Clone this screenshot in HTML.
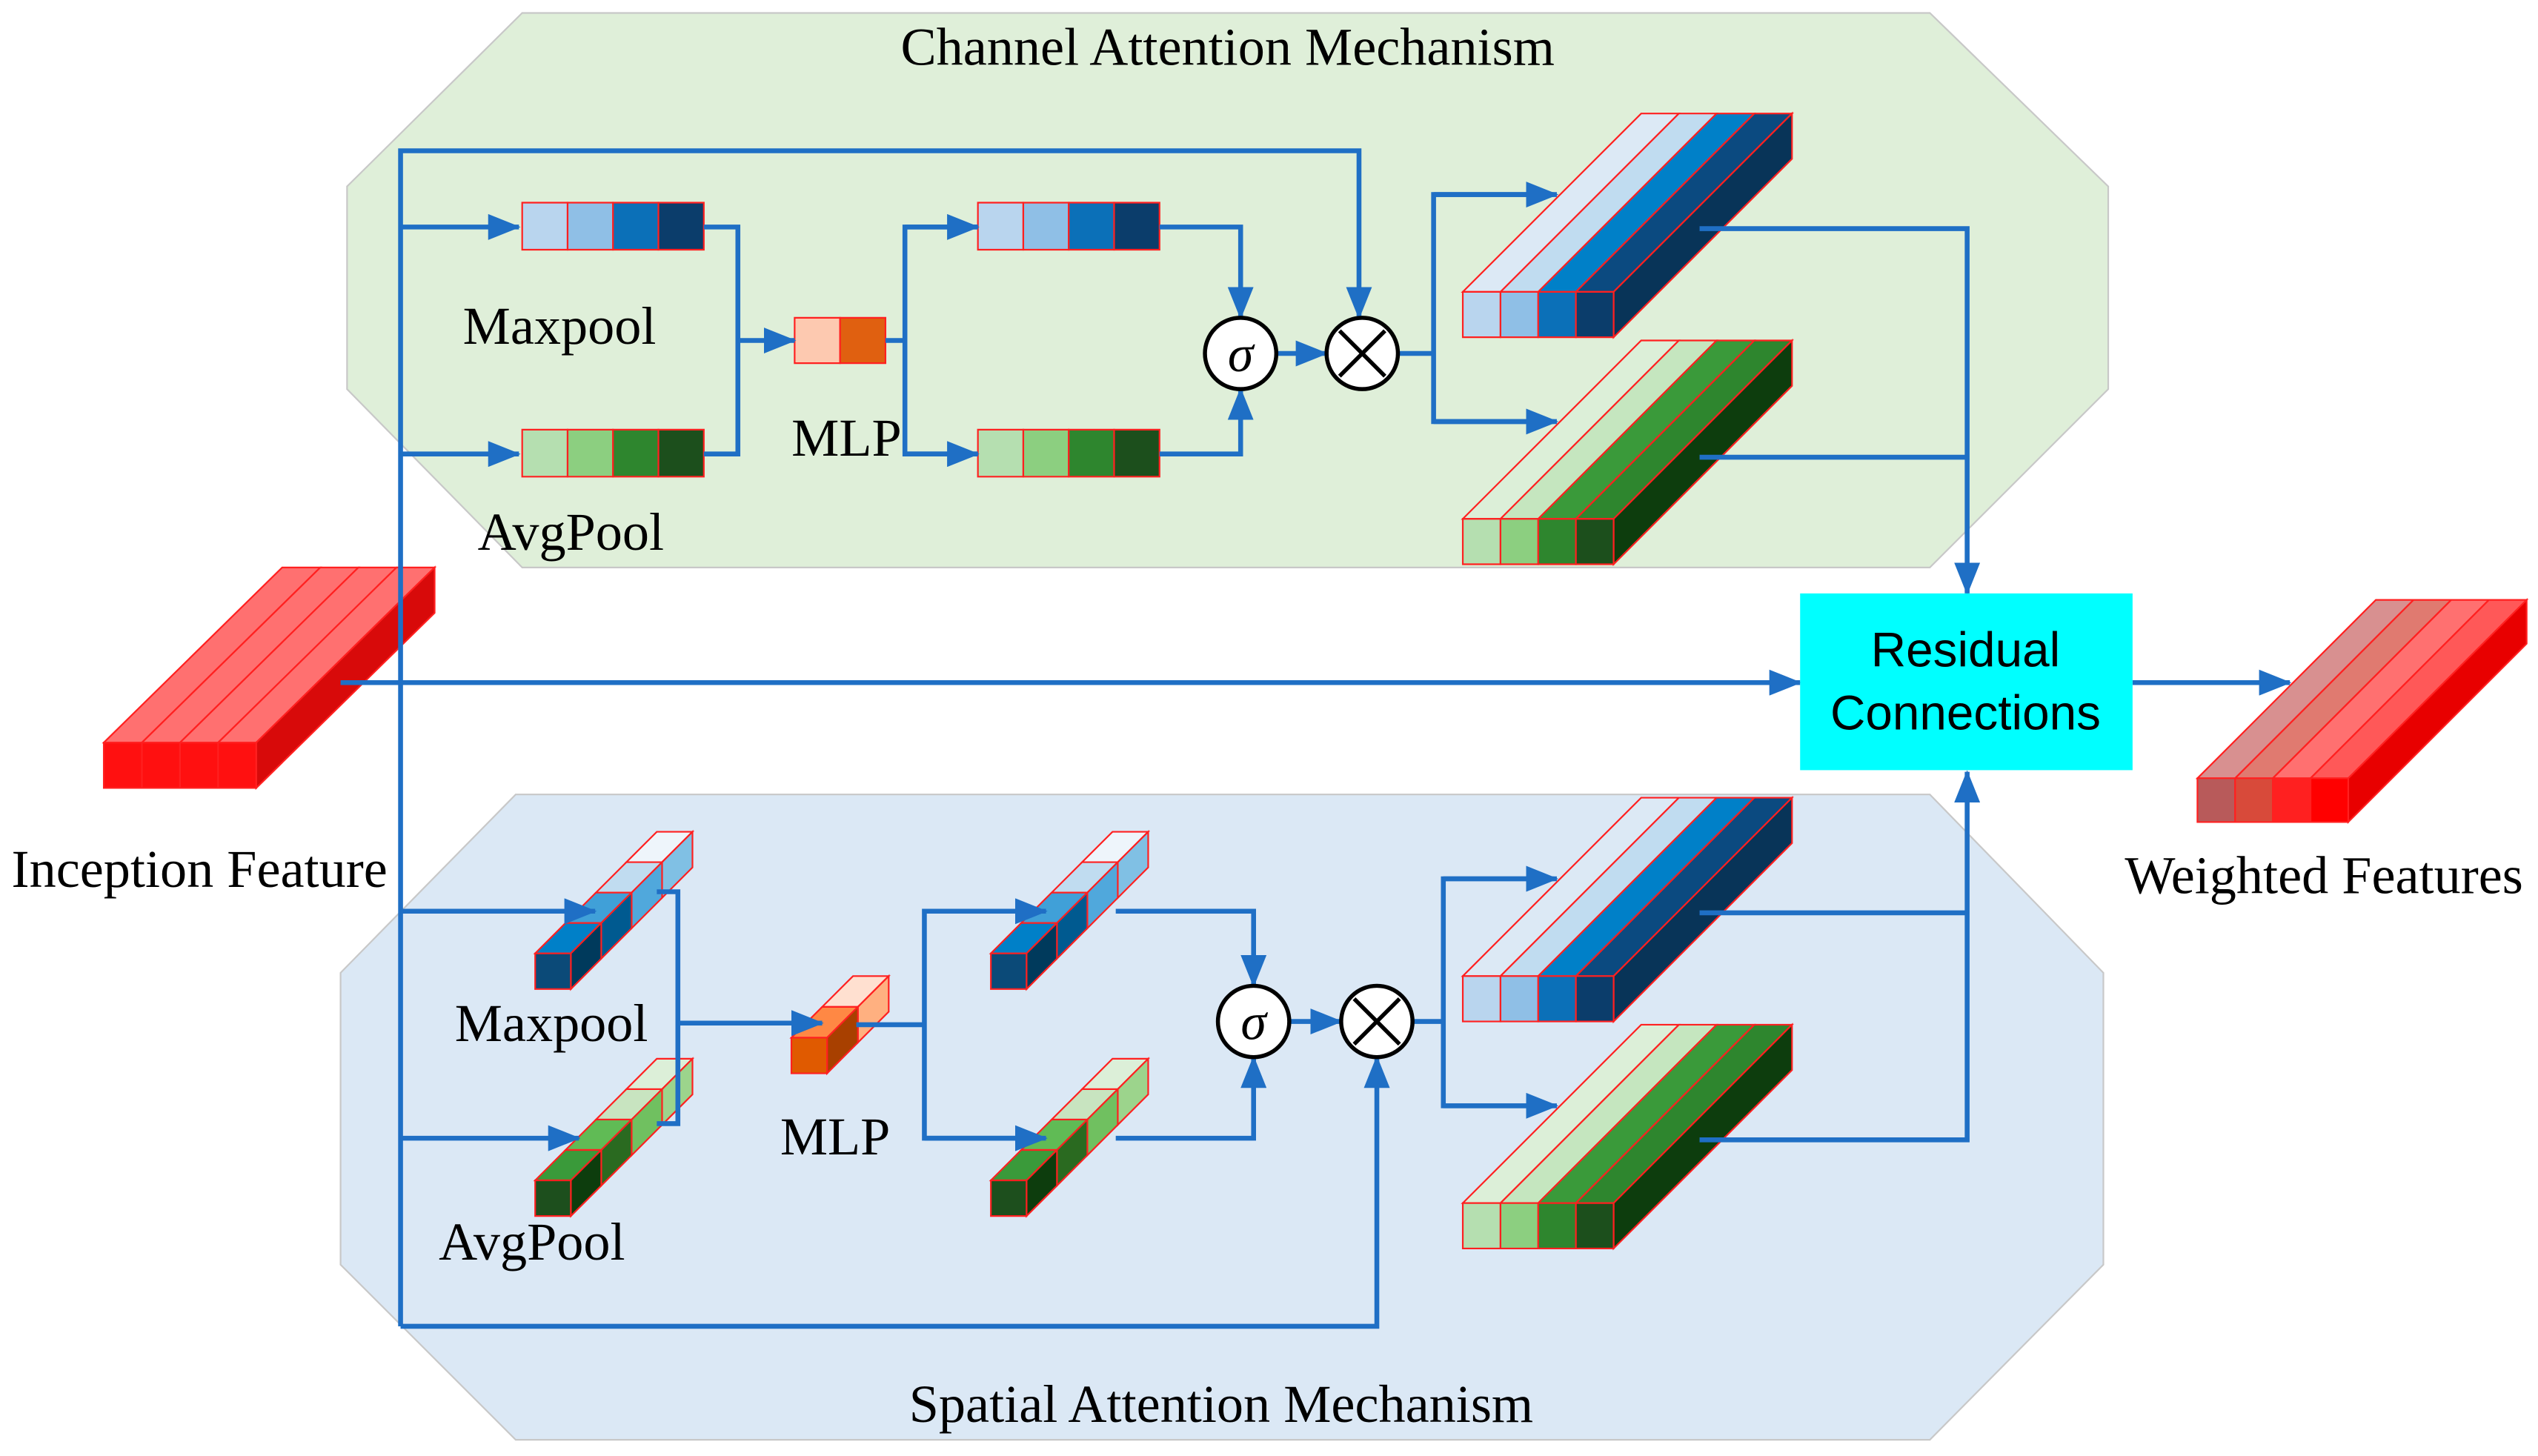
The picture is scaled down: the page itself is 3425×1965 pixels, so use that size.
<!DOCTYPE html>
<html><head><meta charset="utf-8"><style>
html,body{margin:0;padding:0;background:#fff;}
svg{display:block;}
text{font-family:"Liberation Serif",serif;fill:#000;}
</style></head><body>
<svg id="s" width="3425" height="1965" viewBox="0 0 1565 898" preserveAspectRatio="none" xmlns="http://www.w3.org/2000/svg">
<defs>
<marker id="a" markerWidth="20" markerHeight="16" refX="19" refY="8" orient="auto" markerUnits="userSpaceOnUse" viewBox="0 0 20 16">
<path d="M0,0 L20,8 L0,16 z" fill="#1f6fc5"/></marker>
</defs>
<polygon points="322,8 1190,8 1300,115 1300,240 1190,350 322,350 214,240 214,115" fill="#dfefd9" stroke="#c8c8c8" stroke-width="1"/>
<polygon points="318,490 1190,490 1297,600 1297,780 1190,888 318,888 210,780 210,600" fill="#dbe8f5" stroke="#c8c8c8" stroke-width="1"/>
<text x="757" y="40" font-size="33" text-anchor="middle">Channel Attention Mechanism</text>
<text x="753" y="877" font-size="33" text-anchor="middle">Spatial Attention Mechanism</text>
<g id="blocks"></g>
<g fill="none" stroke="#1f6fc5" stroke-width="3">
<polyline points="247,818 247,93 838,93 838,196" marker-end="url(#a)"/>
<polyline points="247,818 849,818 849,652" marker-end="url(#a)"/>
<line x1="247" y1="140" x2="320" y2="140" marker-end="url(#a)"/>
<line x1="247" y1="280" x2="320" y2="280" marker-end="url(#a)"/>
<polyline points="434,140 455,140 455,280 434,280"/>
<line x1="455" y1="210" x2="490" y2="210" marker-end="url(#a)"/>
<polyline points="546,210 558,210"/>
<polyline points="603,140 558,140 558,280 603,280"/>
<line x1="558" y1="140" x2="603" y2="140" marker-end="url(#a)"/>
<line x1="558" y1="280" x2="603" y2="280" marker-end="url(#a)"/>
<polyline points="715,140 765,140 765,196" marker-end="url(#a)"/>
<polyline points="715,280 765,280 765,240" marker-end="url(#a)"/>
<line x1="787" y1="218" x2="818" y2="218" marker-end="url(#a)"/>
<polyline points="862,218 884,218"/>
<polyline points="958,120 884,120 884,260 958,260"/>
<line x1="884" y1="120" x2="960" y2="120" marker-end="url(#a)"/>
<line x1="884" y1="260" x2="960" y2="260" marker-end="url(#a)"/>
<polyline points="1048,141 1213,141 1213,366" marker-end="url(#a)"/>
<polyline points="1048,282 1213,282"/>
<line x1="210" y1="421" x2="1110" y2="421" marker-end="url(#a)"/>
<line x1="1315" y1="421" x2="1412" y2="421" marker-end="url(#a)"/>
<line x1="247" y1="562" x2="367" y2="562" marker-end="url(#a)"/>
<line x1="247" y1="702" x2="357" y2="702" marker-end="url(#a)"/>
<polyline points="405,550 418,550 418,693 405,693"/>
<line x1="418" y1="631" x2="507" y2="631" marker-end="url(#a)"/>
<polyline points="528,632 570,632"/>
<polyline points="640,562 570,562 570,702 640,702"/>
<line x1="570" y1="562" x2="645" y2="562" marker-end="url(#a)"/>
<line x1="570" y1="702" x2="645" y2="702" marker-end="url(#a)"/>
<polyline points="688,562 773,562 773,608" marker-end="url(#a)"/>
<polyline points="688,702 773,702 773,652" marker-end="url(#a)"/>
<line x1="795" y1="630" x2="827" y2="630" marker-end="url(#a)"/>
<polyline points="871,630 890,630"/>
<polyline points="958,542 890,542 890,682 958,682"/>
<line x1="890" y1="542" x2="960" y2="542" marker-end="url(#a)"/>
<line x1="890" y1="682" x2="960" y2="682" marker-end="url(#a)"/>
<polyline points="1048,563 1213,563"/>
<polyline points="1048,703 1213,703 1213,476" marker-end="url(#a)"/>
</g>
<g fill="#fff" stroke="#000" stroke-width="2.5">
<circle cx="765" cy="218" r="22"/><circle cx="840" cy="218" r="22"/>
<circle cx="773" cy="630" r="22"/><circle cx="849" cy="630" r="22"/>
</g>
<g stroke="#000" stroke-width="2.5">
<line x1="826" y1="204" x2="854" y2="232"/><line x1="854" y1="204" x2="826" y2="232"/>
<line x1="835" y1="616" x2="863" y2="644"/><line x1="863" y1="616" x2="835" y2="644"/>
</g>
<text x="765" y="229" font-size="32" font-style="italic" text-anchor="middle">σ</text>
<text x="773" y="641" font-size="32" font-style="italic" text-anchor="middle">σ</text>
<rect x="1110" y="366" width="205" height="109" fill="#00ffff"/>
<text x="1212" y="411" font-size="30" text-anchor="middle" style="font-family:'Liberation Sans',sans-serif">Residual</text>
<text x="1212" y="450" font-size="30" text-anchor="middle" style="font-family:'Liberation Sans',sans-serif">Connections</text>
<text x="345" y="212" font-size="33" text-anchor="middle">Maxpool</text>
<text x="352" y="339" font-size="33" text-anchor="middle">AvgPool</text>
<text x="522" y="281" font-size="33" text-anchor="middle">MLP</text>
<text x="340" y="642" font-size="33" text-anchor="middle">Maxpool</text>
<text x="328" y="777" font-size="33" text-anchor="middle">AvgPool</text>
<text x="515" y="712" font-size="33" text-anchor="middle">MLP</text>
<text x="123" y="547" font-size="33" text-anchor="middle">Inception Feature</text>
<text x="1433" y="551" font-size="33" text-anchor="middle">Weighted Features</text>
</svg>
<script>
var g=document.getElementById('blocks'),NS='http://www.w3.org/2000/svg';
function P(pts,f,sw){var p=document.createElementNS(NS,'polygon');p.setAttribute('points',pts.map(function(q){return q[0]+','+q[1]}).join(' '));p.setAttribute('fill',f);p.setAttribute('stroke','#ff2020');p.setAttribute('stroke-width',sw||1);g.appendChild(p);}
function big(x,y,w,h,dx,dy,front,top,side){var cw=w/4;
for(var i=0;i<4;i++){P([[x+i*cw,y],[x+(i+1)*cw,y],[x+(i+1)*cw+dx,y+dy],[x+i*cw+dx,y+dy]],top[i]);}
P([[x+w,y],[x+w+dx,y+dy],[x+w+dx,y+h+dy],[x+w,y+h]],side);
for(var i=0;i<4;i++){P([[x+i*cw,y],[x+(i+1)*cw,y],[x+(i+1)*cw,y+h],[x+i*cw,y+h]],front[i]);}}
function bar(x,y,w,h,cols){for(var i=0;i<cols.length;i++)P([[x+i*w,y],[x+(i+1)*w,y],[x+(i+1)*w,y+h],[x+i*w,y+h]],cols[i]);}
function small(x,y,s,dx,dy,n,front,top,side){var sx=dx/n,sy=dy/n;
for(var i=n-1;i>=0;i--){var ox=x+i*sx,oy=y+i*sy;
P([[ox,oy],[ox+s,oy],[ox+s+sx,oy+sy],[ox+sx,oy+sy]],top[i]);
P([[ox+s,oy],[ox+s+sx,oy+sy],[ox+s+sx,oy+s+sy],[ox+s,oy+s]],side[i]);}
P([[x,y],[x+s,y],[x+s,y+s],[x,y+s]],front);}
var BF=['#b9d5ee','#8fbfe6','#0b70b8','#0b3d6b'],BT=['#dce9f5','#c0dcf0','#0080c8','#0b4a80'],BS='#083458';
var GF=['#b5dfb0','#8ccf80','#2e862e','#1c4f1c'],GT=['#dcefd8','#c5e6bf','#3a9a3a','#2e862e'],GS='#0d3d0d';
bar(322,125,28,29,BF);bar(322,265,28,29,GF);bar(603,125,28,29,BF);bar(603,265,28,29,GF);
bar(490,196,28,28,['#fdc9b0','#e06010']);
big(902,180,93,28,110,-110,BF,BT,BS);big(902,320,93,28,110,-110,GF,GT,GS);
big(902,602,93,28,110,-110,BF,BT,BS);big(902,742,93,28,110,-110,GF,GT,GS);
big(64,458,94,28,110,-108,['#ff1010','#ff1010','#ff1010','#ff1010'],['#ff7070','#ff7070','#ff7070','#ff7070'],'#d80a0a');
big(1355,480,93,27,110,-110,['#b85a5a','#d84a3a','#ff2020','#ff0000'],['#d89090','#e07a70','#ff7070','#ff5858'],'#e80000');
var sBT=['#0080c8','#40a0d8','#c0dcf0','#eef5fb'],sBS=['#003a5c','#005a90','#50a8dc','#80c0e4'];
var sGT=['#3a9a3a','#60bb55','#c8e4c0','#dcefd8'],sGS=['#0d3d0d','#2a6a20','#70c060','#9cd48c'];
small(330,588,22,75,-75,4,'#0b4a78',sBT,sBS);small(330,728,22,75,-75,4,'#1d4f1d',sGT,sGS);
small(611,588,22,75,-75,4,'#0b4a78',sBT,sBS);small(611,728,22,75,-75,4,'#1d4f1d',sGT,sGS);
small(488,640,22,38,-38,2,'#e05a00',['#ff8844','#ffe0d0'],['#a84000','#ffb080']);
</script>
</body></html>
